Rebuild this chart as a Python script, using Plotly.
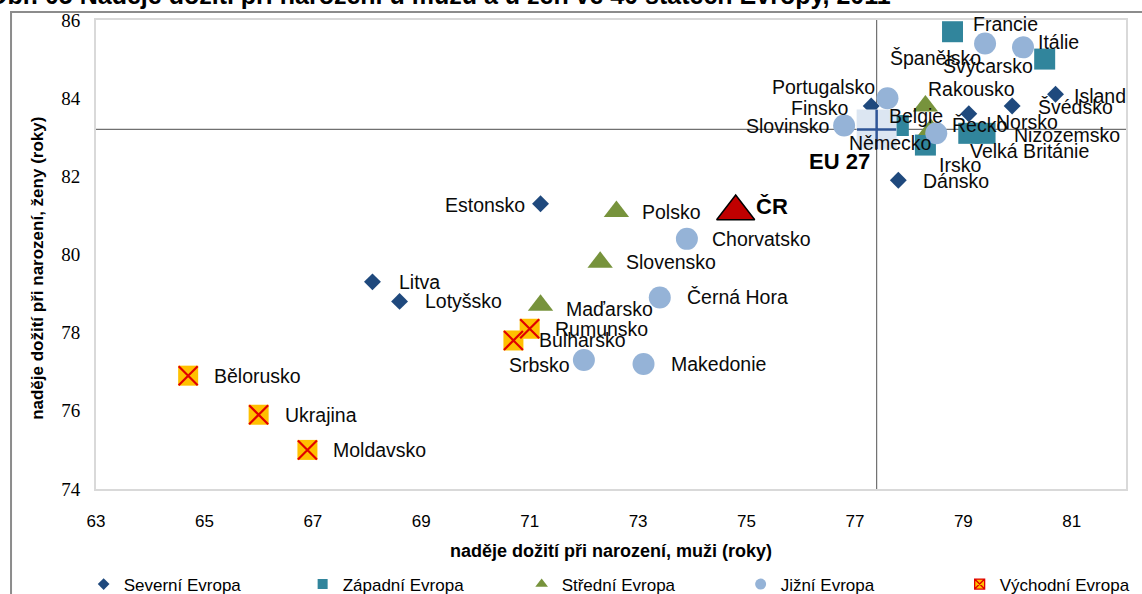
import plotly.graph_objects as go

# ---------------- data (men, women life expectancy at birth, 2011) ----------------
sev_names = ["Estonsko", "Litva", "Lotyšsko", "Finsko", "Dánsko", "Norsko", "Švédsko", "Island"]
sev_m = [71.2, 68.1, 68.6, 77.3, 77.8, 79.1, 79.9, 80.7]
sev_f = [81.3, 79.3, 78.8, 83.8, 81.9, 83.6, 83.8, 84.1]

zap_names = ["Francie", "Švýcarsko", "Belgie", "Irsko", "Nizozemsko", "Velká Británie"]
zap_m = [78.8, 80.5, 77.8, 78.3, 79.4, 79.1]
zap_f = [85.7, 85.0, 83.3, 82.8, 83.1, 83.1]

str_names = ["Rakousko", "Německo", "Polsko", "Slovensko", "Maďarsko"]
str_m = [78.3, 78.4, 72.6, 72.3, 71.2]
str_f = [83.8, 83.2, 81.1, 79.8, 78.7]

jiz_names = ["Španělsko", "Itálie", "Portugalsko", "Slovinsko", "Řecko",
             "Chorvatsko", "Černá Hora", "Srbsko", "Makedonie"]
jiz_m = [79.4, 80.1, 77.6, 76.8, 78.5, 73.9, 73.4, 72.0, 73.1]
jiz_f = [85.4, 85.3, 84.0, 83.3, 83.1, 80.4, 78.9, 77.3, 77.2]

vych_names = ["Bělorusko", "Ukrajina", "Moldavsko", "Rumunsko", "Bulharsko"]
vych_m = [64.7, 66.0, 66.9, 71.0, 70.7]
vych_f = [76.9, 75.9, 75.0, 78.1, 77.8]

cr_name = ["ČR"]
cr_m = [74.8]
cr_f = [81.1]

eu_name = ["EU 27"]
eu_m = [77.4]
eu_f = [83.2]

group_names = ["Severní Evropa", "Západní Evropa", "Střední Evropa", "Jižní Evropa", "Východní Evropa"]

x_ticks = [63, 65, 67, 69, 71, 73, 75, 77, 79, 81]
y_ticks = [74, 76, 78, 80, 82, 84, 86]

title_text = "Obr. 05 Naděje dožití při narození u mužů a u žen ve 40 státech Evropy, 2011"
x_title = "naděje dožití při narození, muži (roky)"
y_title = "naděje dožití při narození, ženy (roky)"

# ---------------- label placement (anchor, x shift px, y shift px) ----------------
label_pos = {
    "Francie": ("left", 18, 8), "Itálie": ("left", 13, 5), "Španělsko": ("right", -2, -15),
    "Švýcarsko": ("right", -10, -7), "Portugalsko": ("right", -10, 11), "Rakousko": ("left", 1, 17),
    "Island": ("left", 16, -2), "Finsko": ("right", -20, -2), "Švédsko": ("left", 24, -1),
    "Belgie": ("left", -11, 10), "Norsko": ("left", 25, -8), "Řecko": ("left", 14, 8),
    "Slovinsko": ("right", -12, 0), "Nizozemsko": ("left", 27, -2), "Německo": ("right", 3, -14),
    "Velká Británie": ("left", -1, -18), "Irsko": ("left", 12, -20), "Dánsko": ("left", 23, -1),
    "Estonsko": ("right", -14, -1), "Polsko": ("left", 24, 0), "Chorvatsko": ("left", 23, 0),
    "Slovensko": ("left", 24, 0), "Litva": ("left", 25, 0), "Lotyšsko": ("left", 23, 0),
    "Černá Hora": ("left", 25, 0), "Maďarsko": ("left", 23, -4), "Rumunsko": ("left", 23, 0),
    "Bulharsko": ("left", 24, 0), "Srbsko": ("right", -12, -5), "Makedonie": ("left", 25, 0),
    "Bělorusko": ("left", 24, 0), "Ukrajina": ("left", 24, 0), "Moldavsko": ("left", 24, 0),
}

C_SEV = "#1F497D"
C_ZAP = "#31859C"
C_STR = "#77933C"
C_JIZ = "#95B3D7"
C_VYCH = "#FFC000"
C_X = "#E00000"
C_CR = "#C00000"

LABEL_FONT = "Liberation Sans, Arial, sans-serif"

fig = go.Figure()


def pts(names, xs, ys, marker):
    fig.add_trace(go.Scatter(x=xs, y=ys, mode="markers", text=names, hoverinfo="text",
                             marker=marker, showlegend=False))


# data traces (draw order matters for overlaps)
pts(zap_names, zap_m, zap_f, dict(symbol="square", size=21, color=C_ZAP, line=dict(width=0)))
pts(sev_names, sev_m, sev_f, dict(symbol="diamond", size=13, color=C_SEV, line=dict(width=0)))
pts(str_names, str_m, str_f, dict(symbol="triangle-up", size=22, color=C_STR, line=dict(width=0)))
# EU 27 marker: light square with cross
pts(eu_name, eu_m, eu_f, dict(symbol="square", size=40, color="#DCE6F2", line=dict(width=0)))
pts(eu_name, eu_m, eu_f, dict(symbol="cross-thin-open", size=28, color="#2F5597",
                              line=dict(width=2.5, color="#2F5597")))
pts(jiz_names, jiz_m, jiz_f, dict(symbol="circle", size=22, color=C_JIZ, line=dict(width=0)))
pts(vych_names, vych_m, vych_f, dict(symbol="square", size=20, color=C_VYCH, line=dict(width=0)))
pts(vych_names, vych_m, vych_f, dict(symbol="x-thin-open", size=19, color=C_X,
                                     line=dict(width=2.2, color=C_X)))
pts(cr_name, cr_m, cr_f, dict(symbol="triangle-up", size=33, color=C_CR,
                              line=dict(width=1.5, color="#000000")))

# legend-only traces
legend_markers = [
    dict(symbol="diamond", size=9, color=C_SEV),
    dict(symbol="square", size=10, color=C_ZAP),
    dict(symbol="triangle-up", size=11, color=C_STR),
    dict(symbol="circle", size=11, color=C_JIZ),
    dict(symbol="square-x", size=10, color=C_VYCH, line=dict(width=1.3, color=C_X)),
]
for name, mk in zip(group_names, legend_markers):
    fig.add_trace(go.Scatter(x=[None], y=[None], mode="markers", name=name, marker=mk))

# labels
annotations = []
for names, xs, ys in [(sev_names, sev_m, sev_f), (zap_names, zap_m, zap_f),
                      (str_names, str_m, str_f), (jiz_names, jiz_m, jiz_f),
                      (vych_names, vych_m, vych_f)]:
    for n, xv, yv in zip(names, xs, ys):
        anc, dx, dy = label_pos[n]
        annotations.append(dict(x=xv, y=yv, xref="x", yref="y", text=n, showarrow=False,
                                xanchor=anc, yanchor="middle", xshift=dx, yshift=dy,
                                font=dict(family=LABEL_FONT, size=19.5, color="#0A0A0A")))
annotations.append(dict(x=cr_m[0], y=cr_f[0], xref="x", yref="y", text="<b>%s</b>" % cr_name[0],
                        showarrow=False, xanchor="left", yanchor="middle", xshift=18, yshift=5,
                        font=dict(family=LABEL_FONT, size=22, color="#000000")))
annotations.append(dict(x=eu_m[0], y=eu_f[0], xref="x", yref="y", text="<b>%s</b>" % eu_name[0],
                        showarrow=False, xanchor="right", yanchor="middle", xshift=-5, yshift=-32,
                        font=dict(family=LABEL_FONT, size=22, color="#000000")))
# clipped title at the very top
annotations.append(dict(x=0.774, y=1.053, xref="paper", yref="paper", text="<b>%s</b>" % title_text,
                        showarrow=False, xanchor="right", yanchor="middle",
                        font=dict(family=LABEL_FONT, size=25, color="#000000")))
# y axis title
annotations.append(dict(x=-0.057, y=0.47, xref="paper", yref="paper", text="<b>%s</b>" % y_title,
                        showarrow=False, xanchor="center", yanchor="middle", textangle=-90,
                        font=dict(family=LABEL_FONT, size=17, color="#000000")))

shapes = [
    # EU 27 reference lines
    dict(type="line", xref="x", yref="paper", x0=eu_m[0], x1=eu_m[0], y0=0, y1=1,
         line=dict(color="#707070", width=1.2), layer="below"),
    dict(type="line", xref="paper", yref="y", x0=0, x1=1, y0=eu_f[0], y1=eu_f[0],
         line=dict(color="#707070", width=1.2), layer="below"),
    # outer chart frame
    dict(type="rect", xref="paper", yref="paper", x0=-0.0825, x1=1.2, y0=-0.4, y1=1.017,
         line=dict(color="#8C8C8C", width=2), fillcolor="rgba(0,0,0,0)", layer="below"),
]

fig.update_layout(
    width=1142, height=594,
    margin=dict(l=96, r=16, t=20, b=105, autoexpand=False),
    paper_bgcolor="white", plot_bgcolor="white",
    font=dict(family=LABEL_FONT, color="#000000"),
    annotations=annotations,
    shapes=shapes,
    legend=dict(orientation="h", x=-0.012, xanchor="left", y=-0.242, yanchor="bottom",
                entrywidth=174, entrywidthmode="pixels", itemsizing="trace",
                font=dict(family=LABEL_FONT, size=17, color="#000000"),
                tracegroupgap=0, bgcolor="rgba(0,0,0,0)"),
    xaxis=dict(range=[63, 82], tickvals=x_ticks, ticktext=[str(v) for v in x_ticks],
               showgrid=False, zeroline=False, showline=True, mirror=True, automargin=False,
               linecolor="#D9D9D9", linewidth=2, ticks="", ticklabelstandoff=16,
               tickfont=dict(family=LABEL_FONT, size=17, color="#000000"),
               title=dict(text="<b>%s</b>" % x_title, standoff=14,
                          font=dict(family=LABEL_FONT, size=18, color="#000000"))),
    yaxis=dict(range=[74, 86], tickvals=y_ticks, ticktext=[str(v) for v in y_ticks],
               showgrid=False, zeroline=False, showline=True, mirror=True, automargin=False,
               linecolor="#D9D9D9", linewidth=2, ticks="", ticklabelstandoff=10,
               tickfont=dict(family="Liberation Serif, serif", size=19, color="#000000")),
)

fig.write_html("out.html", config={"displayModeBar": False},
               post_script="document.body.style.margin='0px';")
